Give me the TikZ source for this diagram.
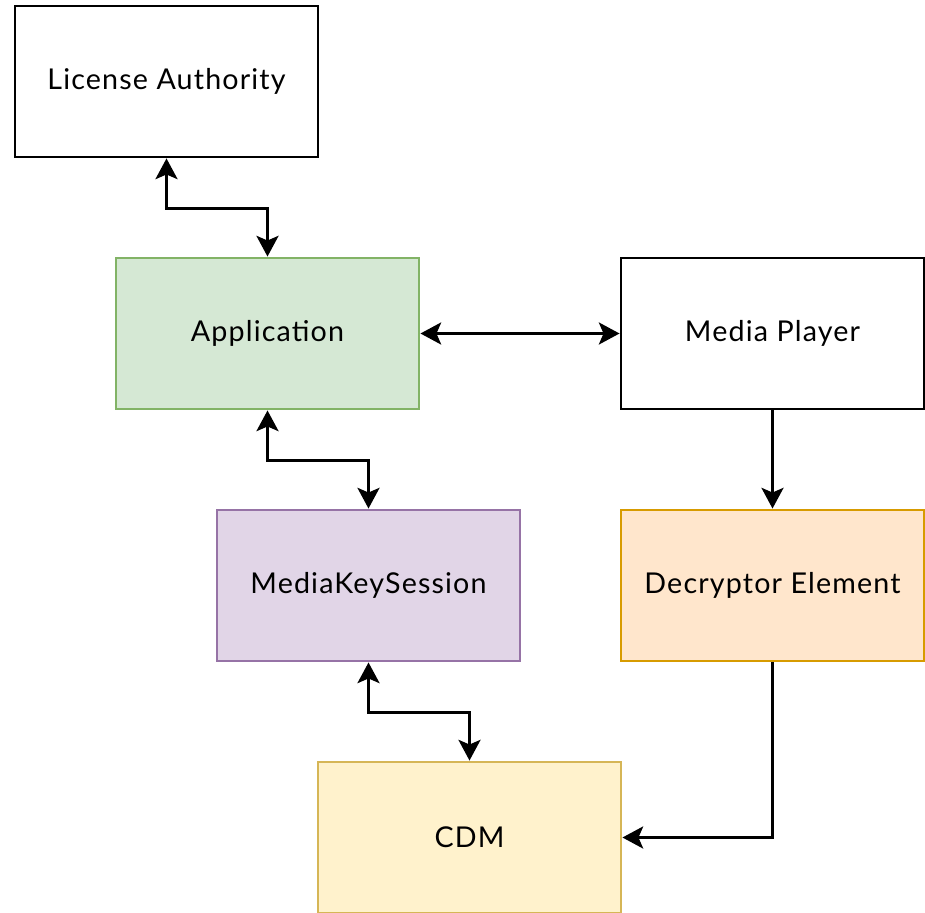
\documentclass[tikz,border=0pt]{standalone}
\usepackage{fontspec}
\setmainfont{Lato}[LetterSpace=4]
\usetikzlibrary{arrows.meta}
\definecolor{appfill}{HTML}{D5E8D4}\definecolor{appline}{HTML}{82B366}
\definecolor{mksfill}{HTML}{E1D5E7}\definecolor{mksline}{HTML}{9673A6}
\definecolor{defill}{HTML}{FFE6CC}\definecolor{deline}{HTML}{D79B00}
\definecolor{cdmfill}{HTML}{FFF2CC}\definecolor{cdmline}{HTML}{D6B656}
\tikzset{
  block/.style={draw=black, fill=white, line width=2.2pt, rectangle,
    minimum width=303*0.75pt, minimum height=151*0.75pt, inner sep=0pt,
    font=\fontsize{21.5}{25}\selectfont},
  link/.style={line width=2.2pt, line join=miter,
    arrows={Stealth[length=15.5pt,width=16.5pt,inset=3.5pt]-Stealth[length=15.5pt,width=16.5pt,inset=3.5pt]}},
  flow/.style={line width=2.2pt, line join=miter,
    -{Stealth[length=15.5pt,width=16.5pt,inset=3.5pt]}}
}
\begin{document}
\begin{tikzpicture}[x=0.75pt,y=-0.75pt]
\useasboundingbox (0,0) rectangle (925,913);
\node[block] (la) at (166.5,81.5) {License Authority};
\node[block, fill=appfill, draw=appline] (app) at (267.5,333.5) {Application};
\node[block] (mp) at (772.5,333.5) {Media Player};
\node[block, fill=mksfill, draw=mksline] (mks) at (368.5,585.5) {MediaKeySession};
\node[block, fill=defill, draw=deline] (de) at (772.5,585.5) {Decryptor Element};
\node[block, fill=cdmfill, draw=cdmline] (cdm) at (469.5,837.5) {CDM};

\draw[link] (la.south) -- ++(0,50) -| (app.north);
\draw[link] (app.east) -- (mp.west);
\draw[link] (app.south) -- ++(0,50) -| (mks.north);
\draw[flow] (mp.south) -- (de.north);
\draw[link] (mks.south) -- ++(0,50) -| (cdm.north);
\draw[flow] (de.south) |- (cdm.east);
\end{tikzpicture}
\end{document}
